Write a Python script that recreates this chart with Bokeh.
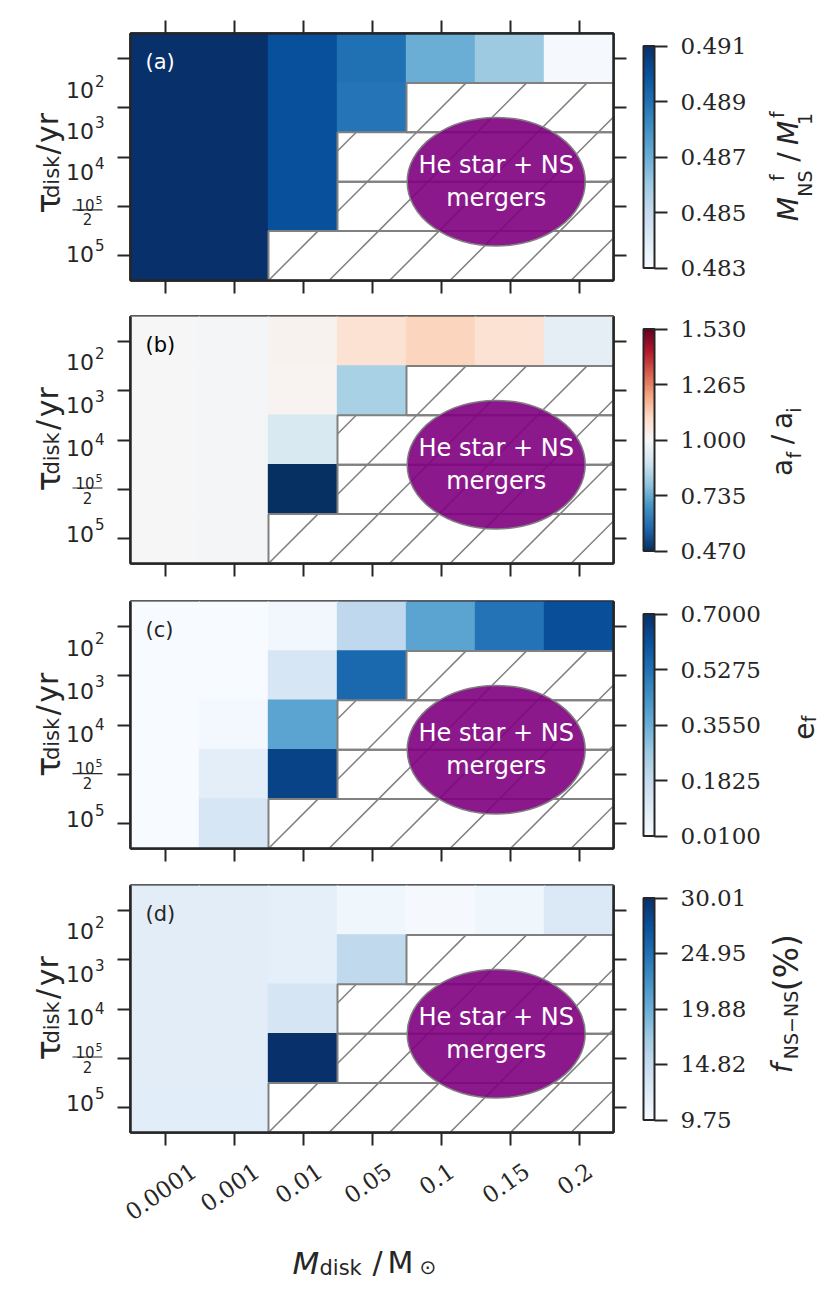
import math
import numpy as np
from bokeh.plotting import figure
from bokeh.models import (LinearColorMapper, ColorBar, FixedTicker, LinearAxis,
                          Label, PrintfTickFormatter, Range1d, ColumnDataSource)
from bokeh.layouts import column, row
from bokeh.embed import file_html
from bokeh.resources import INLINE
from bokeh.core.properties import value

# ------------------------------------------------------------------ data
m_disk = ["0.0001", "0.001", "0.01", "0.05", "0.1", "0.15", "0.2"]
tau_disk = ["10²", "10³", "10⁴", "10⁵/2", "10⁵"]          # rows, top -> bottom
nan = float("nan")

mass_ratio = [
    [0.4910, 0.4910, 0.4900, 0.4890, 0.4870, 0.4860, 0.4831],
    [0.4910, 0.4910, 0.4900, 0.4889, nan, nan, nan],
    [0.4910, 0.4910, 0.4900, nan, nan, nan, nan],
    [0.4910, 0.4910, 0.4900, nan, nan, nan, nan],
    [0.4910, 0.4910, nan, nan, nan, nan, nan],
]
sep_ratio = [
    [1.000, 0.990, 1.020, 1.080, 1.120, 1.080, 0.950],
    [1.000, 0.990, 1.015, 0.830, nan, nan, nan],
    [1.000, 0.990, 0.915, nan, nan, nan, nan],
    [1.000, 0.990, 0.470, nan, nan, nan, nan],
    [1.000, 0.990, nan, nan, nan, nan, nan],
]
eccentricity = [
    [0.010, 0.010, 0.030, 0.196, 0.390, 0.520, 0.620],
    [0.010, 0.010, 0.125, 0.550, nan, nan, nan],
    [0.010, 0.024, 0.390, nan, nan, nan, nan],
    [0.010, 0.079, 0.650, nan, nan, nan, nan],
    [0.010, 0.125, nan, nan, nan, nan, nan],
]
f_nsns = [
    [11.95, 11.90, 11.67, 10.56, 10.05, 10.55, 12.60],
    [11.95, 11.90, 11.70, 15.20, nan, nan, nan],
    [11.95, 11.90, 13.20, nan, nan, nan, nan],
    [11.95, 11.90, 30.01, nan, nan, nan, nan],
    [12.00, 12.00, nan, nan, nan, nan, nan],
]
cbar_ticks_a = [0.483, 0.485, 0.487, 0.489, 0.491]
cbar_ticks_b = [0.470, 0.735, 1.000, 1.265, 1.530]
cbar_ticks_c = [0.0100, 0.1825, 0.3550, 0.5275, 0.7000]
cbar_ticks_d = [9.75, 14.82, 19.88, 24.95, 30.01]
region_text = "He star + NS\nmergers"

# ------------------------------------------------------------------ style
TXT = "#262626"
GRAY = "#808080"
BLUES = ["#f7fbff", "#deebf7", "#c6dbef", "#9ecae1", "#6baed6",
         "#4292c6", "#2171b5", "#08519c", "#08306b"]
RDBU_R = ["#053061", "#2166ac", "#4393c3", "#92c5de", "#d1e5f0", "#f7f7f7",
          "#fddbc7", "#f4a582", "#d6604d", "#b2182b", "#67001f"]
SUP = {"²": "2", "³": "3", "⁴": "4", "⁵": "5"}


def interp_palette(anchors, n=256):
    rgb = np.array([[int(h[i:i + 2], 16) for i in (1, 3, 5)] for h in anchors], float)
    pos = np.linspace(0, 1, len(anchors))
    out = []
    for t in np.linspace(0, 1, n):
        c = [np.interp(t, pos, rgb[:, k]) for k in range(3)]
        out.append("#%02x%02x%02x" % tuple(int(round(v)) for v in c))
    return out


n_rows, n_cols = len(tau_disk), len(m_disk)
FRAME_W, FRAME_H = 483, 247
PX_X, PX_Y = FRAME_W / n_cols, FRAME_H / n_rows
LEFT_W, MAIN_LB, MAIN_RB, RIGHT_W = 110, 20, 147, 66
FRAME_LEFT = LEFT_W + MAIN_LB            # page x of frame left edge
BORDERS = [(33, 18), (18, 20), (18, 19), (18, 20)]
BOTTOM_H = 133
HATCH_STEP, HATCH_PHASE = 60.5, 17.0

row_centers = [n_rows - r - 0.5 for r in range(n_rows)]
col_centers = [c + 0.5 for c in range(n_cols)]

panels = [
    dict(data=mass_ratio, pal=BLUES, ticks=cbar_ticks_a, fmt="%.3f", letter="(a)", lc="white",
         cl=[("M", 28, 68, 28, "italic"), ("f", 16, 106, 19, "normal"),
             ("NS", 44, 99, 19, "normal"), ("/", 28, 131, 28, "normal"),
             ("M", 28, 160, 28, "italic"), ("f", 16, 182, 19, "normal"),
             ("1", 44, 177, 19, "normal")]),
    dict(data=sep_ratio, pal=RDBU_R, ticks=cbar_ticks_b, fmt="%.3f", letter="(b)", lc="black",
         cl=[("a", 22, 91, 28, "normal"), ("f", 33, 105, 19, "normal"),
             ("/", 22, 123, 28, "normal"), ("a", 22, 145, 28, "normal"),
             ("i", 33, 157, 19, "normal")]),
    dict(data=eccentricity, pal=BLUES, ticks=cbar_ticks_c, fmt="%.4f", letter="(c)", lc=TXT,
         cl=[("e", 43, 116, 28, "normal"), ("f", 48, 130, 19, "normal")]),
    dict(data=f_nsns, pal=BLUES, ticks=cbar_ticks_d, fmt="%.2f", letter="(d)", lc=TXT,
         cl=[("f", 22, 54, 28, "italic"), ("NS−NS", 30, 104, 19, "normal"),
             ("(%)", 26, 176, 33, "normal")]),
]


def txt(p, text, x, y, size, font="DejaVu Sans", style="normal", angle=0.0,
        align="center", baseline="middle", color=TXT):
    """real text as a Label annotation placed in data units"""
    p.add_layout(Label(x=x, y=y, x_units="data", y_units="data", text=text,
                       text_font=font, text_font_size=f"{size}px",
                       text_font_style=style, angle=angle, text_align=align,
                       text_baseline=baseline, text_color=color))


def tick_axis(ax, ticks):
    ax.ticker = FixedTicker(ticks=[], minor_ticks=ticks)
    ax.axis_line_color = TXT
    ax.axis_line_width = 2.5
    ax.major_tick_line_color = None
    ax.minor_tick_line_color = TXT
    ax.minor_tick_line_width = 2
    ax.minor_tick_out = 13
    ax.minor_tick_in = 0
    ax.major_label_standoff = 0


def plain_fig(w, h, xr, yr):
    f = figure(width=w, height=h, x_range=xr, y_range=yr, min_border=0, title=None,
               x_axis_type=None, y_axis_type=None, output_backend="svg",
               toolbar_location=None, tools="")
    f.outline_line_color = None
    f.grid.visible = False
    return f


def hatch_segments(L, R, B, T):
    x0, y0, x1, y1 = [], [], [], []
    for l, r, b, t in zip(L, R, B, T):
        Xl, Xr, Yb, Yt = l * PX_X, r * PX_X, b * PX_Y, t * PX_Y
        n0 = math.floor((Xl - Yt - HATCH_PHASE) / HATCH_STEP)
        n1 = math.ceil((Xr - Yb - HATCH_PHASE) / HATCH_STEP)
        for n in range(n0, n1 + 1):
            k = HATCH_PHASE + n * HATCH_STEP
            xa, xb = max(Xl, Yb + k), min(Xr, Yt + k)
            if xb > xa + 0.5:
                x0.append(xa / PX_X); y0.append((xa - k) / PX_Y)
                x1.append(xb / PX_X); y1.append((xb - k) / PX_Y)
    return x0, y0, x1, y1


def power_label(pl, s, x_right, yc, size, sup_size):
    """draw '10^n' as base + raised exponent, right edge at x_right"""
    base = "".join(ch for ch in s if ch not in SUP)
    exp = "".join(SUP[ch] for ch in s if ch in SUP)
    w_exp = 0.636 * sup_size * len(exp)
    y_base = yc - 0.47 * size / PX_Y
    txt(pl, base, x_right - w_exp - 1, y_base, size, align="right", baseline="alphabetic")
    txt(pl, exp, x_right - w_exp, y_base + 0.5 * size / PX_Y, sup_size,
        align="left", baseline="alphabetic")


rows_layout = []
for i, cfg in enumerate(panels):
    top_b, bot_b = BORDERS[i]
    H = top_b + FRAME_H + bot_b
    yr = (-bot_b / PX_Y, n_rows + top_b / PX_Y)

    # ---------------- main heat-map panel
    p = figure(frame_width=FRAME_W, frame_height=FRAME_H, title=None,
               min_border_left=MAIN_LB, min_border_right=MAIN_RB,
               min_border_top=top_b, min_border_bottom=bot_b,
               x_range=Range1d(0, n_cols), y_range=Range1d(0, n_rows),
               output_backend="svg", toolbar_location=None, tools="")
    p.grid.visible = False
    p.outline_line_color = TXT
    p.outline_line_width = 2.5

    data = cfg["data"]
    mapper = LinearColorMapper(palette=interp_palette(cfg["pal"]),
                               low=cfg["ticks"][0], high=cfg["ticks"][-1])
    xs, ys, vs = [], [], []
    for r, rw in enumerate(data):
        for c, v in enumerate(rw):
            if not math.isnan(v):
                xs.append(col_centers[c]); ys.append(row_centers[r]); vs.append(v)
    src = ColumnDataSource(dict(x=xs, y=ys, v=vs))
    p.rect(x="x", y="y", width=1.02, height=1.03, source=src,
           fill_color={"field": "v", "transform": mapper}, line_color=None)

    L, R, B, T = [], [], [], []
    for r, rw in enumerate(data):
        nc = [c for c, v in enumerate(rw) if math.isnan(v)]
        if nc:
            L.append(min(nc)); R.append(max(nc) + 1)
            B.append(row_centers[r] - 0.5); T.append(row_centers[r] + 0.5)
    p.quad(left=L, right=R, bottom=B, top=T, fill_color="white", line_color=None)
    hx0, hy0, hx1, hy1 = hatch_segments(L, R, B, T)
    p.segment(x0=hx0, y0=hy0, x1=hx1, y1=hy1, line_color=GRAY, line_width=1.5)
    p.quad(left=L, right=R, bottom=B, top=T, fill_alpha=0, line_color=GRAY, line_width=2)

    p.ellipse(x=[5.3], y=[2.0], width=[2.58], height=[2.6], fill_color="purple",
              fill_alpha=0.9, line_color=GRAY, line_width=1.5)
    p.text(x=[5.3], y=[2.0], text=[region_text], text_color="white",
           text_align="center", text_baseline="middle",
           text_font=value("DejaVu Sans"), text_font_size="24px")

    tick_axis(p.yaxis[0], row_centers)
    tick_axis(p.xaxis[0], col_centers)
    rax = LinearAxis()
    tick_axis(rax, row_centers)
    p.add_layout(rax, "right")
    if i == 0:
        tax = LinearAxis()
        tick_axis(tax, col_centers)
        p.add_layout(tax, "above")

    p.add_layout(Label(x=15, y=219, x_units="screen", y_units="screen",
                       text=cfg["letter"], text_font="DejaVu Sans",
                       text_font_size="21px", text_align="left",
                       text_baseline="middle", text_color=cfg["lc"]))

    cb = ColorBar(color_mapper=mapper, ticker=FixedTicker(ticks=cfg["ticks"]),
                  formatter=PrintfTickFormatter(format=cfg["fmt"]),
                  location=(513, 12.5), orientation="vertical", width=11, height=222,
                  padding=0, margin=0, bar_line_color=TXT, bar_line_width=2,
                  major_tick_in=0, major_tick_out=13, major_tick_line_color=TXT,
                  major_tick_line_width=2, minor_tick_line_color=None,
                  major_label_text_font="DejaVu Serif", major_label_text_font_size="23px",
                  major_label_text_color=TXT, label_standoff=13,
                  background_fill_alpha=0, border_line_color=None)
    p.add_layout(cb)

    # ---------------- left strip: y axis label, then y tick labels (bottom -> top)
    pl = plain_fig(LEFT_W, H, Range1d(0, LEFT_W), Range1d(*yr))
    up = math.pi / 2
    txt(pl, "τ", 47, 75 / PX_Y, 34, angle=up, baseline="alphabetic")
    txt(pl, "disk", 51, 107 / PX_Y, 21, angle=up, baseline="alphabetic")
    txt(pl, "/", 47, 140 / PX_Y, 30, angle=up, baseline="alphabetic")
    txt(pl, "yr", 47, 166 / PX_Y, 30, angle=up, baseline="alphabetic")
    for r in reversed(range(n_rows)):
        s = tau_disk[r]
        yc = row_centers[r]
        if "/" in s:
            num, den = s.split("/")
            base = "".join(ch for ch in num if ch not in SUP)
            exp = "".join(SUP[ch] for ch in num if ch in SUP)
            txt(pl, base, 94, yc - 1 / PX_Y, 15, align="right", baseline="alphabetic")
            txt(pl, exp, 95, yc + 5 / PX_Y, 11, align="left", baseline="alphabetic")
            pl.segment(x0=[72], y0=[yc - 7 / PX_Y], x1=[102], y1=[yc - 7 / PX_Y],
                       line_color=TXT, line_width=1.2)
            txt(pl, den, 87, yc - 18 / PX_Y, 15)
        else:
            power_label(pl, s, 104, yc, 22, 15)

    # ---------------- right strip: colour-bar label
    pr = plain_fig(RIGHT_W, H, Range1d(0, RIGHT_W), Range1d(*yr))
    for (t, x, y, size, style) in cfg["cl"]:
        txt(pr, t, x, y / PX_Y, size, style=style, angle=up, baseline="alphabetic")

    rows_layout.append(row(pl, p, pr))

# ---------------- bottom strip: x tick labels + x axis label
total_w = LEFT_W + MAIN_LB + FRAME_W + MAIN_RB + RIGHT_W
pb = plain_fig(total_w, BOTTOM_H,
               Range1d(-FRAME_LEFT / PX_X, (total_w - FRAME_LEFT) / PX_X),
               Range1d(0, BOTTOM_H))
ang = math.radians(35)
for c, s in enumerate(m_disk):
    w = sum(0.318 if ch == "." else 0.636 for ch in s) * 23
    vert = w * math.sin(ang) + 17 * math.cos(ang)
    txt(pb, s, col_centers[c] - 4 / PX_X, BOTTOM_H - 9 - vert / 2, 23,
        font="DejaVu Serif", angle=ang)


def px(page_x):
    return (page_x - FRAME_LEFT) / PX_X


txt(pb, "M", px(292), 23, 31, style="italic", align="left", baseline="alphabetic")
txt(pb, "disk", px(319), 18, 21, align="left", baseline="alphabetic")
txt(pb, "/", px(372), 23, 30, align="left", baseline="alphabetic")
txt(pb, "M", px(387), 23, 30, align="left", baseline="alphabetic")
txt(pb, "⊙", px(419), 19, 20, align="left", baseline="alphabetic")

layout = column(*rows_layout, pb)
open("out.html", "w").write(file_html(layout, INLINE))
